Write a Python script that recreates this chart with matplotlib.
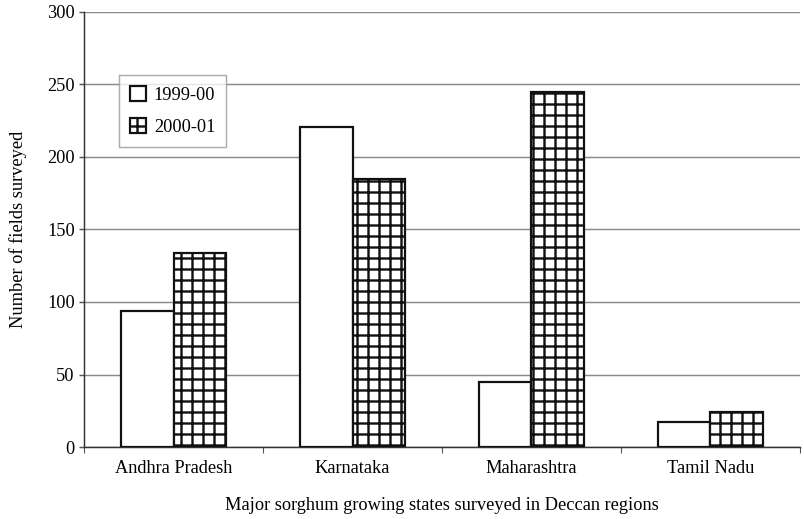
import numpy as np
import matplotlib
matplotlib.use('Agg')
import matplotlib.pyplot as plt

# Data
states = ['Andhra Pradesh', 'Karnataka', 'Maharashtra', 'Tamil Nadu']
fields_1999 = [94, 221, 45, 17]
fields_2000 = [134, 185, 245, 24]
series_labels = ['1999-00', '2000-01']
y_ticks = [0, 50, 100, 150, 200, 250, 300]

plt.rcParams['font.family'] = ['Liberation Serif', 'DejaVu Serif']
plt.rcParams['hatch.linewidth'] = 1.3
plt.rcParams['hatch.color'] = '#111111'

DPI = 132
FS = 10
fig = plt.figure(figsize=(804 / DPI, 519 / DPI), dpi=DPI)
ax = fig.add_axes([0.1045, 0.1387, 0.8905, 0.8383])

x = np.arange(len(states))
w = 0.296
ax.bar(x - w / 2, fields_1999, w, color='white', edgecolor='#111111',
       linewidth=1.2, label=series_labels[0], zorder=3)
ax.bar(x + w / 2, fields_2000, w, color='white', edgecolor='#111111',
       linewidth=1.2, hatch='++', label=series_labels[1], zorder=3)

ax.set_xlim(-0.5, len(states) - 0.5)
ax.set_ylim(0, 300)
ax.set_yticks(y_ticks)
ax.yaxis.grid(True, color='#8a8a8a', linewidth=0.8)
ax.set_axisbelow(True)

# category ticks between groups
ax.set_xticks(x)
ax.set_xticklabels(states, fontsize=FS)
ax.set_xticks(np.arange(-0.5, len(states) + 0.5, 1), minor=True)
ax.tick_params(axis='x', which='major', length=0, pad=7)
ax.tick_params(axis='x', which='minor', length=3, color='#555555')
ax.tick_params(axis='y', labelsize=FS, length=3, color='#555555', pad=2)

for s in ['top', 'right']:
    ax.spines[s].set_visible(False)
ax.spines['left'].set_color('#333333')
ax.spines['bottom'].set_color('#333333')

ax.set_ylabel('Number of fields surveyed', fontsize=FS, labelpad=11)
ax.set_xlabel('Major sorghum growing states surveyed in Deccan regions',
              fontsize=FS, labelpad=11)

leg = ax.legend(loc='upper left', bbox_to_anchor=(0.036, 0.876), fontsize=FS,
                frameon=True, fancybox=False, edgecolor='#999999',
                handlelength=0.9, handleheight=0.9, handletextpad=0.4,
                borderpad=0.6, labelspacing=0.75)
leg.get_frame().set_linewidth(0.8)

fig.savefig('out.png', dpi=DPI, facecolor='white')
